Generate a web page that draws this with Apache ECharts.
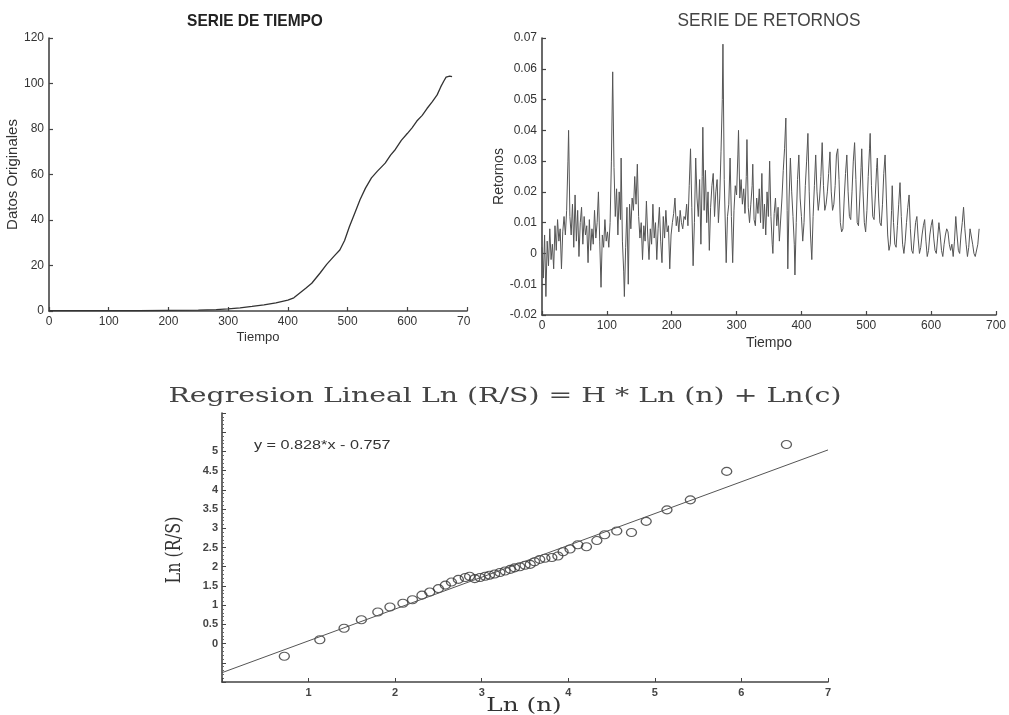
<!DOCTYPE html>
<html>
<head>
<meta charset="utf-8">
<script src="https://cdn.jsdelivr.net/npm/echarts@6/dist/echarts.min.js"></script>
<style>
html,body{margin:0;padding:0;background:#fff;}
#chart{width:1009px;height:715px;}
</style>
</head>
<body>
<div id="chart"></div>
<script>
// ---- Serie de tiempo (datos originales) ----
const timeT = [0, 50, 100, 150, 200, 250, 280, 300, 320, 340, 360, 380, 400, 410, 420, 430, 440, 454, 465, 477, 487, 495, 503, 512, 521, 530, 540, 550, 563, 572, 580, 590, 600, 608, 616, 625, 633, 642, 650, 656, 661, 665, 668, 671, 675];
const timeV = [0.2, 0.2, 0.2, 0.2, 0.3, 0.4, 0.6, 0.9, 1.4, 2.0, 2.7, 3.6, 4.8, 5.8, 7.9, 10.0, 12.2, 16.7, 20.5, 24.0, 26.8, 31.0, 37.0, 43.0, 49.0, 54.0, 58.5, 61.5, 65.0, 68.5, 71.0, 75.0, 78.0, 80.5, 83.5, 86.0, 89.0, 92.0, 95.0, 98.5, 101.0, 102.8, 102.3, 103.2, 103.0];

// ---- Serie de retornos ----
const retT = [0,2,4,6,8,10,12,14,16,18,20,22,24,26,28,30,32,34,36,38,40,41,43,45,47,49,51,53,55,57,59,61,63,65,67,69,71,73,75,77,79,81,83,85,87,89,91,93,95,97,99,101,103,105,107,109,111,113,115,117,119,121,122,124,126,127,129,131,133,135,137,139,141,143,145,147,149,151,153,155,157,159,161,163,165,167,169,171,173,175,177,179,181,183,185,187,189,191,193,195,197,199,201,203,205,207,209,211,213,215,217,219,221,223,225,227,229,231,233,235,237,239,241,243,245,247,248,250,252,254,256,258,260,262,264,266,268,270,272,274,276,278,279,281,283,284,286,288,290,292,294,296,298,300,302,303,305,307,309,311,313,315,316,318,320,322,324,325,327,329,331,333,335,337,339,341,343,345,347,349,351,353,355,356,358,360,362,364,366,368,370,372,374,376,378,379,381,383,385,387,389,390,392,394,396,398,400,402,404,406,408,410,412,414,416,418,420,422,424,426,428,430,432,434,436,438,440,442,444,446,448,450,452,454,456,458,460,462,464,466,468,470,472,474,476,478,480,482,484,486,488,490,492,493,495,497,499,501,503,505,506,508,510,512,514,516,517,519,521,523,525,527,529,531,533,535,537,539,540,542,544,546,548,550,552,554,556,558,560,562,564,566,568,570,572,574,576,578,580,582,584,586,588,590,592,594,596,598,600,602,604,606,608,610,612,614,616,618,620,622,624,626,628,630,632,634,636,638,640,642,644,646,648,650,652,654,656,658,660,662,664,666,668,670,672,674,675];
const retV = [0.002,-0.008,0.006,-0.014,0.004,-0.004,0.008,-0.002,0.003,-0.005,0.009,0.001,0.011,0.004,0.008,-0.005,0.007,0.012,0.006,0.014,0.030,0.040,0.012,0.006,0.016,0.002,0.019,0.004,0.014,-0.001,0.010,0.015,0.003,0.012,0.006,0.009,-0.003,0.011,0.001,0.008,0.003,0.014,0.005,0.010,0.020,0.004,-0.011,0.006,0.002,0.011,0.004,0.007,0.002,0.010,0.030,0.059,0.028,0.012,0.021,0.006,0.020,0.011,0.031,0.004,-0.006,-0.014,0.002,0.015,-0.010,0.016,0.008,0.018,0.014,0.025,0.016,0.029,0.012,0.005,0.010,-0.002,0.009,0.004,0.017,0.006,-0.002,0.008,0.003,0.016,0.005,0.010,-0.002,0.008,0.015,0.004,-0.003,0.012,0.005,0.014,0.007,0.009,-0.005,0.006,0.010,0.013,0.018,0.009,0.012,0.007,0.014,0.010,0.008,0.012,0.011,0.016,0.009,0.022,0.034,0.015,-0.004,0.010,0.031,0.018,0.012,0.024,0.003,0.025,0.041,0.014,0.027,0.010,0.020,0.001,0.015,0.022,0.026,0.012,0.020,0.024,0.010,0.018,0.033,0.050,0.068,0.024,0.006,-0.003,0.012,0.016,0.031,0.012,-0.003,0.014,0.022,0.019,0.032,0.040,0.018,0.024,0.016,0.021,0.013,0.025,0.037,0.015,0.010,0.016,0.022,0.029,0.011,0.009,0.018,0.013,0.021,0.010,0.026,0.008,0.016,0.006,0.020,0.012,0.030,0.012,0.003,0.000,0.013,0.018,0.009,0.015,0.004,0.004,0.018,0.027,0.034,0.044,0.014,-0.005,0.018,0.031,0.020,0.012,0.003,-0.007,0.010,0.024,0.032,0.018,0.012,0.004,0.010,0.022,0.030,0.039,0.020,0.006,-0.002,0.012,0.022,0.032,0.020,0.014,0.018,0.025,0.036,0.022,0.014,0.016,0.020,0.026,0.033,0.020,0.014,0.016,0.022,0.032,0.034,0.024,0.010,0.007,0.008,0.018,0.026,0.032,0.020,0.012,0.011,0.020,0.030,0.036,0.024,0.010,0.009,0.018,0.028,0.034,0.020,0.010,0.007,0.014,0.025,0.034,0.039,0.022,0.012,0.011,0.019,0.028,0.031,0.018,0.010,0.009,0.016,0.026,0.032,0.018,0.006,0.001,0.003,0.014,0.022,0.010,0.003,0.002,0.009,0.016,0.023,0.012,0.003,0.000,0.004,0.010,0.015,0.019,0.008,0.001,0.000,0.005,0.010,0.012,0.005,0.000,0.002,0.006,0.009,0.011,0.004,-0.001,0.001,0.006,0.009,0.011,0.005,0.001,0.000,0.005,0.010,0.006,0.001,-0.001,0.003,0.006,0.008,0.007,0.003,0.001,0.003,-0.001,0.004,0.012,0.006,0.001,0.000,0.006,0.010,0.015,0.008,0.003,-0.001,0.002,0.008,0.008,0.003,0.000,-0.001,-0.001,0.003,0.008,0.008];

// ---- Regresion R/S ----
const lnN  = [0.72, 1.13, 1.41, 1.61, 1.80, 1.94, 2.09, 2.20, 2.31, 2.40, 2.50, 2.58, 2.65, 2.73, 2.81, 2.86, 2.92, 2.98, 3.04, 3.09, 3.15, 3.21, 3.27, 3.33, 3.38, 3.44, 3.50, 3.56, 3.61, 3.67, 3.73, 3.81, 3.88, 3.94, 4.02, 4.11, 4.21, 4.33, 4.42, 4.56, 4.73, 4.90, 5.14, 5.41, 5.83, 6.52];
const lnRS = [-0.33, 0.10, 0.40, 0.62, 0.82, 0.95, 1.05, 1.14, 1.26, 1.34, 1.43, 1.52, 1.60, 1.67, 1.72, 1.75, 1.69, 1.72, 1.75, 1.78, 1.81, 1.85, 1.89, 1.93, 1.97, 2.00, 2.04, 2.06, 2.13, 2.19, 2.22, 2.24, 2.28, 2.39, 2.46, 2.57, 2.52, 2.68, 2.83, 2.93, 2.89, 3.18, 3.48, 3.74, 4.48, 5.18];
const regSlope = 0.828;
const regIntercept = -0.757;
const regX = [0, 7];

const zip = (a, b) => a.map((v, i) => [v, b[i]]);

const sansFont = '"Liberation Sans",Arial,sans-serif';
const serifFont = '"DejaVu Serif","Liberation Serif",serif';

function topAxis(extra) {
  return Object.assign({
    type: 'value',
    axisLine: { show: true, onZero: false, lineStyle: { color: '#444', width: 1.6 } },
    axisTick: { show: true, inside: true, length: 4, lineStyle: { color: '#444', width: 1.2 } },
    axisLabel: { color: '#333', fontSize: 12, fontFamily: sansFont, margin: 5 },
    splitLine: { show: false },
    nameLocation: 'middle',
    nameTextStyle: { color: '#333', fontSize: 13, fontFamily: sansFont }
  }, extra);
}

const chart = echarts.init(document.getElementById('chart'), null, { renderer: 'canvas' });

const option = {
  animation: false,
  backgroundColor: '#fff',
  grid: [
    { left: 49, right: 542, top: 38, bottom: 404 },
    { left: 542, right: 12, top: 38, bottom: 400 },
    { left: 222, right: 181, top: 413, bottom: 33 }
  ],
  xAxis: [
    topAxis({ gridIndex: 0, min: 0, max: 700, interval: 100, name: 'Tiempo', nameGap: 20 }),
    topAxis({ gridIndex: 1, min: 0, max: 700, interval: 100, name: 'Tiempo', nameGap: 21,
      nameTextStyle: { color: '#333', fontSize: 14, fontFamily: sansFont } }),
    {
      type: 'value', gridIndex: 2, min: 0, max: 7, interval: 1,
      axisLine: { show: true, onZero: false, lineStyle: { color: '#444', width: 1.6 } },
      axisTick: { show: true, inside: true, length: 4, lineStyle: { color: '#444' } },
      axisLabel: { color: '#444', fontSize: 11, fontWeight: 'bold', fontFamily: sansFont, margin: 5,
        formatter: v => (v === 0 ? '' : String(v)) },
      splitLine: { show: false }
    }
  ],
  yAxis: [
    topAxis({ gridIndex: 0, min: 0, max: 120, interval: 20, name: 'Datos Originales', nameGap: 24,
      nameTextStyle: { color: '#333', fontSize: 15, fontFamily: sansFont } }),
    topAxis({ gridIndex: 1, min: -0.02, max: 0.07, interval: 0.01, name: 'Retornos', nameGap: 32,
      nameTextStyle: { color: '#333', fontSize: 14, fontFamily: sansFont },
      axisLabel: { color: '#333', fontSize: 12, fontFamily: sansFont, margin: 5,
        formatter: v => String(parseFloat(v.toFixed(2))) } }),
    {
      type: 'value', gridIndex: 2, min: -1, max: 6, interval: 0.5,
      axisLine: { show: true, onZero: false, lineStyle: { color: '#444', width: 1.6 } },
      axisTick: { show: true, inside: true, length: 4, lineStyle: { color: '#444' } },
      minorTick: { show: true, splitNumber: 5, length: 2, lineStyle: { color: '#666' } },
      axisLabel: { color: '#444', fontSize: 11, fontWeight: 'bold', fontFamily: sansFont, margin: 4,
        formatter: v => (v < -0.001 || v > 5.001) ? '' : String(parseFloat(v.toFixed(1))) },
      splitLine: { show: false }
    }
  ],
  series: [
    {
      type: 'line', xAxisIndex: 0, yAxisIndex: 0, data: zip(timeT, timeV),
      showSymbol: false, lineStyle: { color: '#333', width: 1.3 }
    },
    {
      type: 'line', xAxisIndex: 1, yAxisIndex: 1, data: zip(retT, retV),
      showSymbol: false, lineStyle: { color: '#555', width: 1 }
    },
    {
      type: 'line', xAxisIndex: 2, yAxisIndex: 2,
      data: regX.map(x => [x, regSlope * x + regIntercept]),
      showSymbol: false, lineStyle: { color: '#555', width: 1 }, z: 3
    },
    {
      type: 'scatter', xAxisIndex: 2, yAxisIndex: 2, data: zip(lnN, lnRS),
      symbol: 'circle', symbolSize: [10, 8],
      itemStyle: { color: 'rgba(255,255,255,0)', borderColor: '#333', borderWidth: 1.2 }, z: 2
    }
  ],
  graphic: [
    { type: 'rect', shape: { x: 470, y: 314, width: 10, height: 14 }, style: { fill: '#fff' }, z: 100 },
    { type: 'text', x: 255, y: 21.5, scaleX: 0.91, style: { text: 'SERIE DE TIEMPO', fill: '#222',
      font: 'bold 17px ' + sansFont, align: 'center', verticalAlign: 'middle' } },
    { type: 'text', x: 769, y: 21.5, scaleX: 0.96, style: { text: 'SERIE DE RETORNOS', fill: '#444',
      font: '18px ' + sansFont, align: 'center', verticalAlign: 'middle' } },
    { type: 'text', x: 505, y: 397, scaleX: 1.35, style: { text: 'Regresion Lineal Ln (R/S) = H * Ln (n) + Ln(c)', fill: '#444',
      font: '21px ' + serifFont, align: 'center', verticalAlign: 'middle' } },
    { type: 'text', x: 524, y: 706, scaleX: 1.3, style: { text: 'Ln (n)', fill: '#333',
      font: '19px ' + serifFont, align: 'center', verticalAlign: 'middle' } },
    { type: 'text', x: 175, y: 550, rotation: Math.PI / 2, scaleX: 0.8, style: { text: 'Ln (R/S)', fill: '#333',
      font: '20px ' + serifFont, align: 'center', verticalAlign: 'middle' } },
    { type: 'text', x: 254, y: 446, scaleX: 1.35, style: { text: 'y = 0.828*x - 0.757', fill: '#333',
      font: '12px ' + sansFont, align: 'left', verticalAlign: 'middle' } }
  ]
};

chart.setOption(option);
</script>
</body>
</html>
